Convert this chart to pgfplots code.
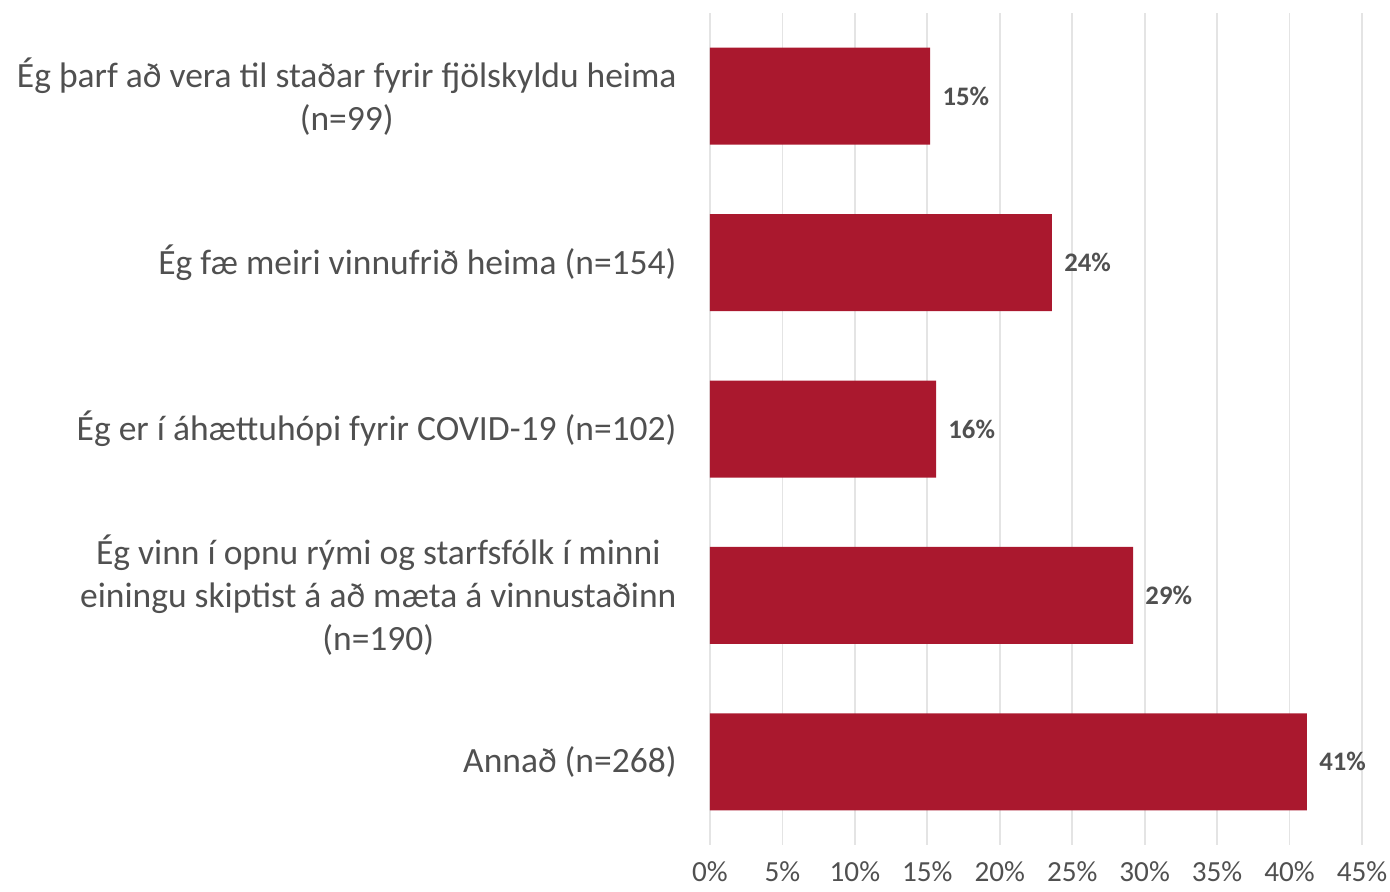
\documentclass[border=0pt]{standalone}
\usepackage{fontspec}
\setmainfont{Carlito}
\usepackage{pgfplots}
\pgfplotsset{compat=1.18}
\definecolor{barred}{RGB}{170,24,46}
\definecolor{txtgray}{RGB}{80,80,80}
\definecolor{gridgray}{RGB}{228,228,228}
\begin{document}
\begin{tikzpicture}
\useasboundingbox (0,0) rectangle (13.9cm,8.91cm);
\begin{axis}[
    at={(7.1cm,0.46cm)}, anchor=south west,
    scale only axis,
    width=6.52cm, height=8.32cm,
    xbar, bar width=0.97cm, bar shift=0pt,
    xmin=0, xmax=45,
    ymin=-0.5, ymax=4.5,
    y dir=reverse,
    axis line style={draw=none},
    tick style={draw=none},
    xmajorgrids,
    grid style={gridgray, line width=0.5pt},
    xtick={0,5,...,45},
    xticklabels={0\%,5\%,10\%,15\%,20\%,25\%,30\%,35\%,40\%,45\%},
    xticklabel style={font=\fontsize{8.3}{10}\selectfont, text=txtgray, yshift=-0.4mm},
    ytick={0,1,2,3,4},
    yticklabels={
      {Ég þarf að vera til staðar fyrir fjölskyldu heima\\(n=99)},
      {Ég fæ meiri vinnufrið heima (n=154)},
      {Ég er í áhættuhópi fyrir COVID-19 (n=102)},
      {Ég vinn í opnu rými og starfsfólk í minni\\einingu skiptist á að mæta á vinnustaðinn\\(n=190)},
      {Annað (n=268)}},
    yticklabel style={font=\fontsize{10.1}{12.2}\selectfont, text=txtgray, align=center, xshift=-0.6mm},
    nodes near coords={\pgfmathprintnumber[fixed,precision=0,assume math mode=true]{\pgfplotspointmeta}\%},
    every node near coord/.append style={font=\bfseries\fontsize{7.6}{9}\selectfont, text=txtgray, anchor=west, xshift=0mm},
]
\addplot[fill=barred, draw=none] coordinates {
  (15.2,0) (23.6,1) (15.6,2) (29.2,3) (41.2,4)
};
\end{axis}
\end{tikzpicture}
\end{document}
